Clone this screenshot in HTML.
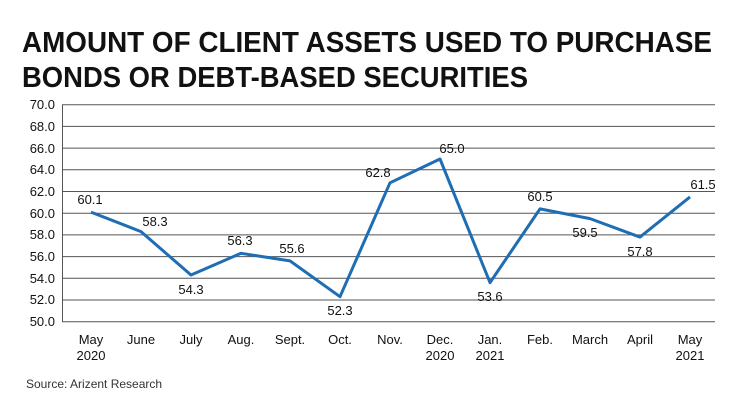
<!DOCTYPE html>
<html><head><style>body{margin:0;background:#fff}svg{display:block}</style></head><body>
<svg width="740" height="415" xmlns="http://www.w3.org/2000/svg" font-family="Liberation Sans, sans-serif">
<text x="22" y="52" font-size="29" font-weight="bold" fill="#111" textLength="690" lengthAdjust="spacingAndGlyphs">AMOUNT OF CLIENT ASSETS USED TO PURCHASE</text>
<text x="22" y="87" font-size="29" font-weight="bold" fill="#111" textLength="506" lengthAdjust="spacingAndGlyphs">BONDS OR DEBT-BASED SECURITIES</text>
<g stroke="#555" stroke-width="1">
<line x1="62" x2="715" y1="104.7" y2="104.7"/><line x1="62" x2="715" y1="126.4" y2="126.4"/>
<line x1="62" x2="715" y1="148.1" y2="148.1"/><line x1="62" x2="715" y1="169.8" y2="169.8"/>
<line x1="62" x2="715" y1="191.5" y2="191.5"/><line x1="62" x2="715" y1="213.2" y2="213.2"/>
<line x1="62" x2="715" y1="234.9" y2="234.9"/><line x1="62" x2="715" y1="256.6" y2="256.6"/>
<line x1="62" x2="715" y1="278.3" y2="278.3"/><line x1="62" x2="715" y1="300" y2="300"/>
<line x1="62" x2="715" y1="321.7" y2="321.7"/><line x1="62.5" x2="62.5" y1="104.7" y2="321.7"/>
</g>
<g font-size="13" fill="#111" text-anchor="end">
<text x="55" y="109">70.0</text><text x="55" y="131">68.0</text><text x="55" y="153">66.0</text>
<text x="55" y="174">64.0</text><text x="55" y="196">62.0</text><text x="55" y="218">60.0</text>
<text x="55" y="239">58.0</text><text x="55" y="261">56.0</text><text x="55" y="283">54.0</text>
<text x="55" y="304">52.0</text><text x="55" y="326">50.0</text>
</g>
<polyline fill="none" stroke="#1f6db3" stroke-width="3" stroke-linejoin="round" points="91,212.1 141,231.6 191,275 241,253.3 290,260.9 340,296.7 390,182.8 440,159 490,282.6 540,208.9 590,218.6 640,237.1 690,196.9"/>
<g font-size="13" fill="#111" text-anchor="middle">
<text x="90" y="204">60.1</text><text x="155" y="226">58.3</text><text x="191" y="294">54.3</text>
<text x="240" y="245">56.3</text><text x="292" y="253">55.6</text><text x="340" y="315">52.3</text>
<text x="378" y="177">62.8</text><text x="452" y="153">65.0</text><text x="490" y="301">53.6</text>
<text x="540" y="201">60.5</text><text x="585" y="237">59.5</text><text x="640" y="256">57.8</text>
<text x="703" y="189">61.5</text>
</g>
<g font-size="13" fill="#111" text-anchor="middle">
<text x="91" y="344">May</text><text x="91" y="360">2020</text>
<text x="141" y="344">June</text><text x="191" y="344">July</text><text x="241" y="344">Aug.</text>
<text x="290" y="344">Sept.</text><text x="340" y="344">Oct.</text><text x="390" y="344">Nov.</text>
<text x="440" y="344">Dec.</text><text x="440" y="360">2020</text>
<text x="490" y="344">Jan.</text><text x="490" y="360">2021</text>
<text x="540" y="344">Feb.</text><text x="590" y="344">March</text><text x="640" y="344">April</text>
<text x="690" y="344">May</text><text x="690" y="360">2021</text>
</g>
<text x="26" y="388" font-size="12" fill="#333">Source: Arizent Research</text>
</svg>
</body></html>
